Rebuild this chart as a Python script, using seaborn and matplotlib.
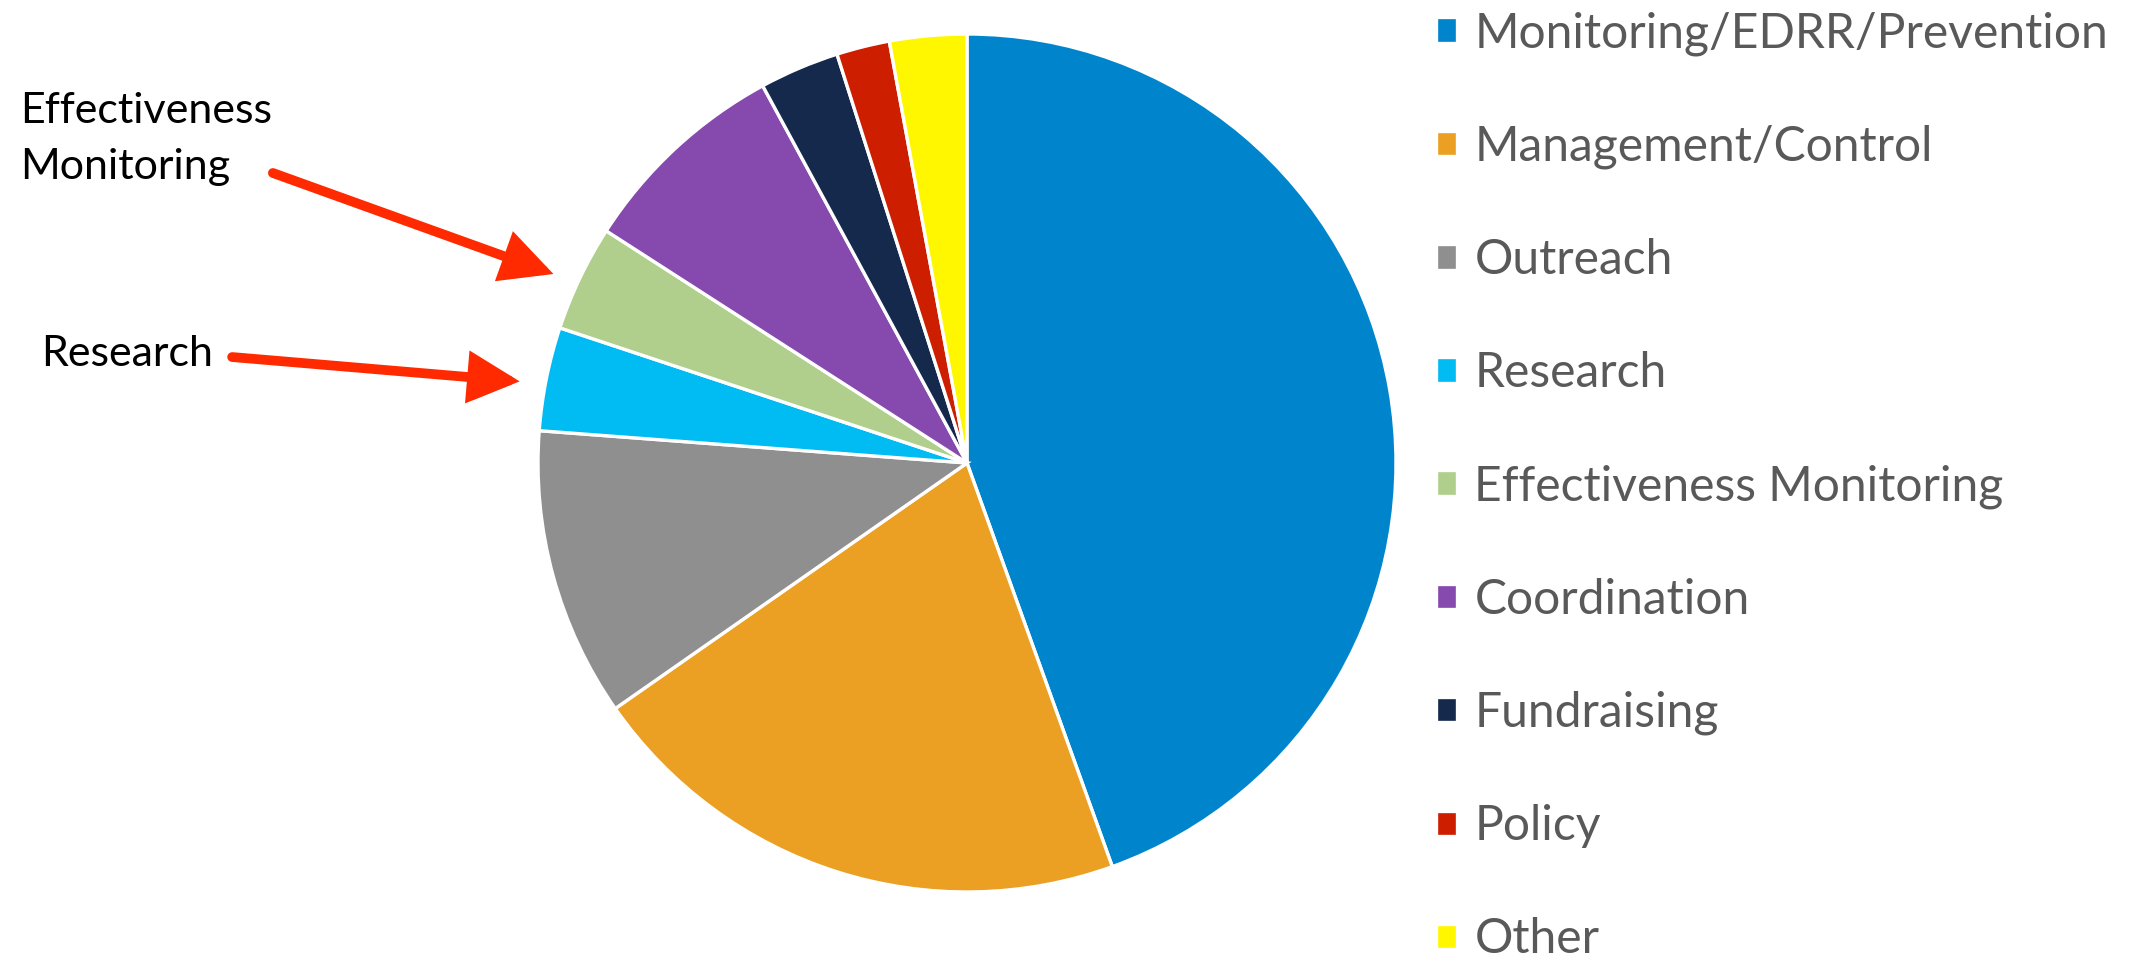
import matplotlib
matplotlib.use("Agg")
import matplotlib.pyplot as plt
import matplotlib.patheffects as pe
import numpy as np
import seaborn as sns

# Share of effort by activity type (percent)
categories = [
    "Monitoring/EDRR/Prevention",
    "Management/Control",
    "Outreach",
    "Research",
    "Effectiveness Monitoring",
    "Coordination",
    "Fundraising",
    "Policy",
    "Other",
]
shares = [44.5, 20.8, 10.9, 3.9, 4.0, 8.0, 3.0, 2.0, 2.9]
slice_colors = [
    "#0085CD", "#ECA023", "#8F8F8F", "#00BCF2", "#B0CF8C",
    "#8649AD", "#14294C", "#CD1E00", "#FFF700",
]
# Slices called out with arrows on the left
callouts = ["Effectiveness Monitoring", "Research"]
callout_text = {"Effectiveness Monitoring": "Effectiveness\nMonitoring",
                "Research": "Research"}

sns.set_theme(style="white")
plt.rcParams["font.family"] = ["Lato", "DejaVu Sans"]
palette = sns.color_palette(slice_colors)

W, H, DPI = 2139, 961, 100
fig = plt.figure(figsize=(W / DPI, H / DPI), dpi=DPI)

# Pie axes: centre (967, 463) px, radius 429 px
cx, cy, r = 967, 463, 429
ax = fig.add_axes([(cx - r) / W, (H - cy - r) / H, 2 * r / W, 2 * r / H])
wedges, _ = ax.pie(
    shares,
    colors=palette,
    startangle=90,
    counterclock=False,
    radius=1.0,
    wedgeprops=dict(edgecolor="white", linewidth=2.4),
)
ax.set_xlim(-1, 1)
ax.set_ylim(-1, 1)
ax.set_aspect("equal")
ax.axis("off")

# Legend on the right
leg = fig.legend(
    wedges, categories,
    loc="upper left",
    bbox_to_anchor=(1436 / W, 1 - 11 / H),
    frameon=False,
    fontsize=34.6,
    handlelength=0.44,
    handleheight=0.44,
    handletextpad=0.36,
    labelspacing=1.437,
    borderpad=0,
    borderaxespad=0,
)
for t in leg.get_texts():
    t.set_color("#595959")

# Callout labels (anchored at the baseline of the last line) and arrows
label_pos = {"Effectiveness Monitoring": (-2.207, 0.662),
             "Research": (-2.159, 0.226)}
tail_pos = {"Effectiveness Monitoring": (-1.618, 0.676),
            "Research": (-1.713, 0.247)}
arrow_red = "#FF2A00"
for name in callouts:
    w = wedges[categories.index(name)]
    mid = np.deg2rad((w.theta1 + w.theta2) / 2 + 1.0)
    tip = (1.06 * np.cos(mid), 1.06 * np.sin(mid))
    tx, ty = label_pos[name]
    ax.text(tx, ty, callout_text[name], ha="left", va="baseline",
            fontsize=31, color="black", linespacing=1.58, clip_on=False)
    ax.annotate(
        "", xy=tip, xytext=tail_pos[name],
        arrowprops=dict(
            arrowstyle="-|>,head_length=0.95,head_width=0.48",
            mutation_scale=28, lw=7, color=arrow_red,
            shrinkA=0, shrinkB=0, capstyle="round", joinstyle="miter",
            path_effects=[pe.SimplePatchShadow(offset=(2, -3), alpha=0.35),
                          pe.Normal()],
        ),
        annotation_clip=False,
    )

fig.savefig("out.png", dpi=DPI)
